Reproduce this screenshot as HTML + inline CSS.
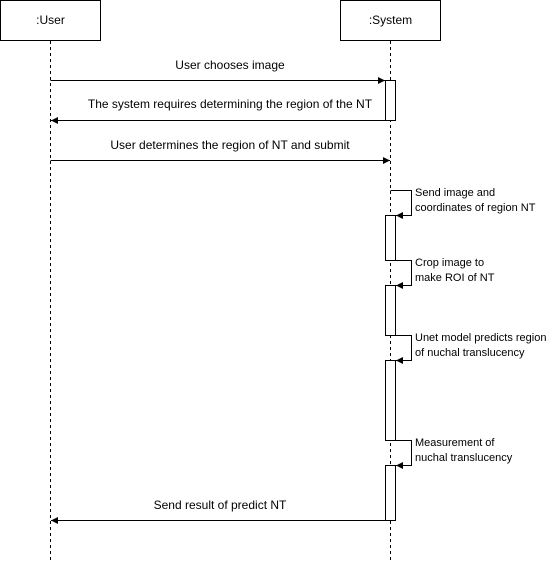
<!DOCTYPE html>
<html><head><style>body{margin:0;background:#fff}</style></head><body>
<svg width="551" height="561" xmlns="http://www.w3.org/2000/svg" font-family="Liberation Sans, sans-serif" font-size="11" fill="#000">
<defs><marker id="a" markerWidth="8" markerHeight="8" refX="7" refY="4" orient="auto" markerUnits="userSpaceOnUse"><path d="M0,0.5 L7,4 L0,7.5 z" fill="#000"/></marker></defs>
<rect x="0.5" y="0.5" width="100" height="40" fill="#fff" stroke="#000"/>
<text x="50.5" y="24" text-anchor="middle" font-size="12">:User</text>
<rect x="340.5" y="0.5" width="100" height="40" fill="#fff" stroke="#000"/>
<text x="390.5" y="24" text-anchor="middle" font-size="12">:System</text>
<g stroke="#000" stroke-dasharray="3,3"><line x1="50.5" y1="41" x2="50.5" y2="561"/><line x1="390.5" y1="41" x2="390.5" y2="561"/></g>
<g fill="#fff" stroke="#000">
<rect x="385.5" y="80.5" width="10" height="40"/>
<rect x="385.5" y="215.5" width="10" height="45"/>
<rect x="385.5" y="285.5" width="10" height="50"/>
<rect x="385.5" y="360.5" width="10" height="80"/>
<rect x="385.5" y="465.5" width="10" height="55"/>
</g>
<g stroke="#000" fill="none" marker-end="url(#a)">
<line x1="50.5" y1="80.5" x2="385" y2="80.5"/>
<line x1="385" y1="120.5" x2="51" y2="120.5"/>
<line x1="50.5" y1="160.5" x2="390" y2="160.5"/>
<line x1="385" y1="520.5" x2="51" y2="520.5"/>
<path d="M390.5,190.5 H411.5 V215.5 H396"/>
<path d="M395.5,260.5 H411.5 V285.5 H396"/>
<path d="M395.5,335.5 H411.5 V360.5 H396"/>
<path d="M395.5,440.5 H411.5 V465.5 H396"/>
</g>
<g font-size="12">
<text x="230" y="69" text-anchor="middle">User chooses image</text>
<text x="230" y="108" text-anchor="middle">The system requires determining the region of the NT</text>
<text x="230" y="149" text-anchor="middle">User determines the region of NT and submit</text>
<text x="220" y="509" text-anchor="middle">Send result of predict NT</text>
</g>
<text x="415" y="196">Send image and</text><text x="415" y="211">coordinates of region NT</text>
<text x="415" y="266">Crop image to</text><text x="415" y="281">make ROI of NT</text>
<text x="415" y="341">Unet model predicts region</text><text x="415" y="356">of nuchal translucency</text>
<text x="415" y="446">Measurement of</text><text x="415" y="461">nuchal translucency</text>
</svg>
</body></html>
